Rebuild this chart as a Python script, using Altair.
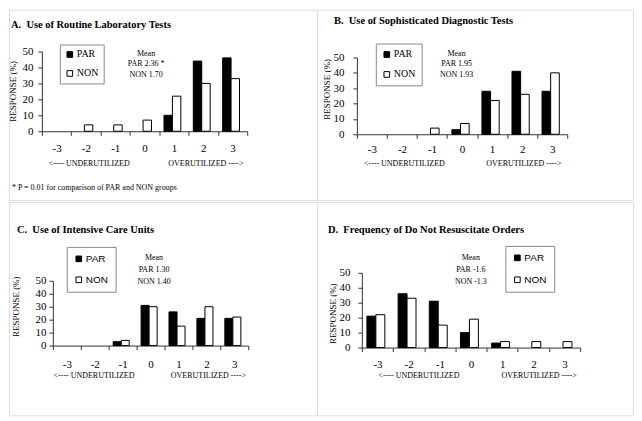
import altair as alt
import pandas as pd

categories = ["-3", "-2", "-1", "0", "1", "2", "3"]
groups = ["PAR", "NON"]
y_ticks = [0, 10, 20, 30, 40, 50]

a_par = [0, 0, 0, 0, 10, 44, 46]
a_non = [0, 4, 4, 7, 22, 30, 33]
b_par = [0, 0, 0, 3, 28, 41, 28]
b_non = [0, 0, 4, 7, 22, 26, 40]
c_par = [0, 0, 3, 31, 26, 21, 21]
c_non = [0, 0, 4, 30, 15, 30, 22]
d_par = [21, 36, 31, 10, 3, 0, 0]
d_non = [22, 33, 15, 19, 4, 4, 4]

titles = [
    "A.\u00a0 Use of Routine Laboratory Tests",
    "B.\u00a0 Use of Sophisticated Diagnostic Tests",
    "C.\u00a0 Use of Intensive Care Units",
    "D.\u00a0 Frequency of Do Not Resuscitate Orders",
]
means = [
    ["Mean", "PAR 2.36 *", "NON 1.70"],
    ["Mean", "PAR 1.95", "NON 1.93"],
    ["Mean", "PAR 1.30", "NON 1.40"],
    ["Mean", "PAR -1.6", "NON -1.3"],
]
y_title = "RESPONSE (%)"
under_left = "<---- UNDERUTILIZED"
under_right = "OVERUTILIZED ---->"
footnote = "* P = 0.01 for comparison of PAR and NON groups"

SERIF = "Liberation Serif"
SANS = "Liberation Sans"
AXIS_COLOR = "#333333"
BORDER = "#8a8a8a"


def make_df(par, non):
    rows = []
    for c, p, n in zip(categories, par, non):
        rows.append({"score": c, "group": "PAR", "value": p})
        rows.append({"score": c, "group": "NON", "value": n})
    return pd.DataFrame(rows)


def text_layer(txt, x, y, size, align="left", weight="normal", angle=0, font=SERIF):
    kw = dict(text=txt, align=align, baseline="middle", fontSize=size,
              font=font, fontWeight=weight, color="black")
    if angle:
        kw["angle"] = angle
    return alt.Chart(alt.Data(values=[{}])).mark_text(**kw).encode(
        x=alt.value(x), y=alt.value(y))


def panel(par, non, title, mean_lines, s):
    w, h = s["w"], s["h"]
    x0, x1 = s["xr"]
    y0, y50 = s["yr"]
    df = make_df(par, non)
    bars = alt.Chart(df).transform_filter("datum.value > 0").mark_bar(
        stroke="black", strokeWidth=1
    ).encode(
        x=alt.X("score:N", sort=categories,
                scale=alt.Scale(domain=categories, range=[x0, x1],
                                paddingInner=0, paddingOuter=0),
                axis=alt.Axis(title=None, labelAngle=0, tickBand="extent",
                              offset=y0 - h, grid=False, tickSize=4,
                              labelPadding=s["xlp"], labelFont=SERIF,
                              labelFontSize=11, labelColor="black",
                              domainColor=AXIS_COLOR, tickColor=AXIS_COLOR,
                              labelOverlap=False)),
        xOffset=alt.XOffset("group:N", sort=groups,
                            scale=alt.Scale(domain=groups, paddingInner=0,
                                            paddingOuter=0.74, align=0.38)),
        y=alt.Y("value:Q",
                scale=alt.Scale(domain=[0, 50], range=[y0, y50], nice=False),
                axis=alt.Axis(title=None, values=y_ticks, offset=-x0,
                              grid=False, tickSize=4, labelPadding=s["ylp"],
                              labelFont=SERIF, labelFontSize=11,
                              labelColor="black", domainColor=AXIS_COLOR,
                              tickColor=AXIS_COLOR)),
        fill=alt.Fill("group:N", sort=groups,
                      scale=alt.Scale(domain=groups, range=["black", "white"]),
                      legend=alt.Legend(title=None, orient="none",
                                        legendX=s["lg"][0], legendY=s["lg"][1],
                                        direction="vertical",
                                        strokeColor=BORDER, fillColor="white",
                                        padding=s["lpad"], rowPadding=s["lrp"],
                                        symbolType="square", symbolSize=32,
                                        symbolStrokeColor="black",
                                        symbolStrokeWidth=1,
                                        labelFont=s["lfont"], labelFontSize=10,
                                        labelColor="black", labelOffset=2)),
    )
    layers = [bars]
    layers.append(text_layer(title, s["title"][0], s["title"][1], 10.5,
                             weight="bold"))
    layers.append(text_layer(y_title, s["yt"][0], s["yt"][1], 9,
                             align="center", angle=270))
    layers.append(text_layer(under_left, s["ul"][0], s["ul"][1], 8,
                             align="center"))
    layers.append(text_layer(under_right, s["ur"][0], s["ur"][1], 8,
                             align="center"))
    for line, yy in zip(mean_lines, s["my"]):
        layers.append(text_layer(line, s["mx"], yy, 8, align="center"))
    if s.get("fn"):
        layers.append(text_layer(footnote, s["fn"][0], s["fn"][1], 8))
    return alt.layer(*layers).properties(width=w, height=h)


specs = [
    dict(w=309, h=191, xr=(33, 239), yr=(122, 42), xlp=7, ylp=5,
         lg=(51, 35), lpad=5, lrp=9, lfont=SERIF, title=(2, 15), yt=(4, 82),
         ul=(80.5, 155), ur=(197.5, 155), mx=137.5, my=(44, 54.5, 65.5),
         fn=(3, 179)),
    dict(w=317, h=191, xr=(40, 251), yr=(125, 48), xlp=5, ylp=9,
         lg=(59, 34), lpad=6, lrp=10, lfont=SERIF, title=(17, 11), yt=(10, 80),
         ul=(87.7, 155), ur=(207.5, 155), mx=140, my=(44, 55, 66)),
    dict(w=309, h=214, xr=(44, 240), yr=(144, 79), xlp=9, ylp=3,
         lg=(58, 45), lpad=7, lrp=11, lfont=SANS, title=(8, 28), yt=(7.5, 105),
         ul=(85.3, 175), ur=(200, 175), mx=145.5, my=(56, 68, 80)),
    dict(w=317, h=214, xr=(45, 264), yr=(146, 71), xlp=7, ylp=8,
         lg=(189, 44), lpad=7, lrp=12, lfont=SANS, title=(11, 28), yt=(16, 112),
         ul=(102.3, 175), ur=(222.8, 175), mx=154.3, my=(56, 68, 80)),
]

data_sets = [(a_par, a_non), (b_par, b_non), (c_par, c_non), (d_par, d_non)]
panels = [panel(p, n, t, m, s)
          for (p, n), t, m, s in zip(data_sets, titles, means, specs)]


def resolve(ch):
    return ch.resolve_scale(fill="independent", xOffset="independent",
                            x="independent", y="independent").resolve_legend(
        fill="independent")


top = resolve(alt.hconcat(panels[0], panels[1], spacing=0, bounds="flush"))
bottom = resolve(alt.hconcat(panels[2], panels[3], spacing=0, bounds="flush"))
chart = resolve(alt.vconcat(top, bottom, spacing=0)).properties(
    padding=0
).configure_view(stroke=BORDER, strokeWidth=1).configure(background="white")

chart.save("out.html", embed_options={"renderer": "svg", "actions": False})
